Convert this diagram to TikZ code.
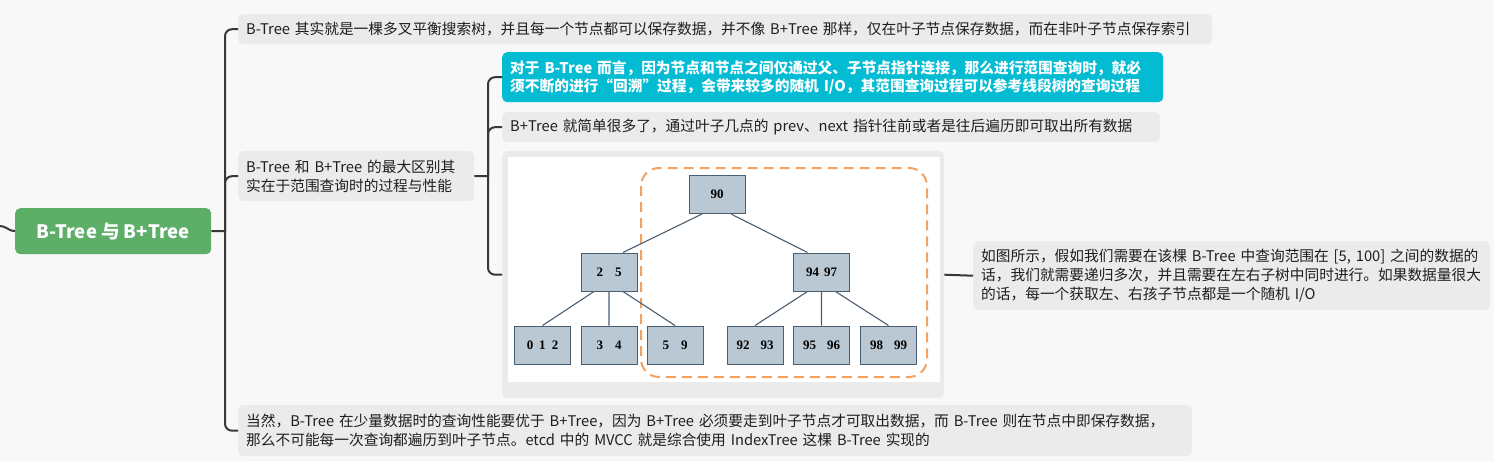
\documentclass[tikz,border=0pt]{standalone}
\usepackage{fontspec}
\setmainfont{Noto Sans CJK SC}
\newfontfamily\treefont{Liberation Serif}

\definecolor{bgcol}{HTML}{F8F8F8}
\definecolor{boxcol}{HTML}{EBEBEB}
\definecolor{linecol}{HTML}{383838}
\definecolor{rootcol}{HTML}{5DAF67}
\definecolor{cyancol}{HTML}{03BCD4}
\definecolor{tfill}{HTML}{B9C8D3}
\definecolor{tline}{HTML}{4A5E72}
\definecolor{dashcol}{HTML}{F4A261}
\definecolor{txtcol}{HTML}{1E1E1E}

\begin{document}
\begin{tikzpicture}[x=1pt,y=-1pt,
  topic/.style={fill=boxcol,rounded corners=5pt,anchor=north west,align=left,
    inner xsep=8pt,inner ysep=0pt,text=txtcol,
    font=\fontsize{14.7}{19}\selectfont},
  hot/.style={topic,fill=cyancol,text=white,font=\fontsize{14.7}{18}\selectfont\bfseries},
  tnode/.style={draw=tline,fill=tfill,line width=1pt,minimum width=56pt,minimum height=38pt,
    inner sep=0pt,font=\treefont\bfseries\fontsize{13}{14}\selectfont},
  link/.style={draw=linecol,line width=2pt,rounded corners=7pt},
  edge/.style={draw=tline,line width=1.1pt}]

\fill[bgcol] (0,0) rectangle (1494,461);
\useasboundingbox (0,0) rectangle (1494,461);

% root
\node[fill=rootcol,rounded corners=5pt,anchor=north west,minimum width=196pt,minimum height=46pt,
  text=white,font=\fontsize{18.5}{20}\selectfont\bfseries] (root) at (15,208) {B-Tree 与 B+Tree};
\coordinate (parent) at (0,226);
\coordinate (trunk) at (225,231);

% first level
\node[topic,text width=958pt,minimum height=30pt] (intro) at (238,14)
  {\mbox{B-Tree 其实就是一棵多叉平衡搜索树，并且每一个节点都可以保存数据，并不像 B+Tree 那样，仅在叶子节点保存数据，而在非叶子节点保存索引}};
\node[topic,text width=220pt,minimum height=50pt] (diff) at (238,151)
  {\mbox{B-Tree 和 B+Tree 的最大区别其}\\\mbox{实在于范围查询时的过程与性能}};
\node[topic,text width=938pt,minimum height=51pt] (usage) at (238,405)
  {\mbox{当然，B-Tree 在少量数据时的查询性能要优于 B+Tree，因为 B+Tree 必须要走到叶子节点才可取出数据，而 B-Tree 则在节点中即保存数据，}\\
   \mbox{那么不可能每一次查询都遍历到叶子节点。etcd 中的 MVCC 就是综合使用 IndexTree 这棵 B-Tree 实现的}};

% second level
\coordinate (fork) at (488,176);
\node[hot,text width=645pt,minimum height=50pt] (btree) at (502,52)
  {\mbox{对于 B-Tree 而言，因为节点和节点之间仅通过父、子节点指针连接，那么进行范围查询时，就必}\\
   \mbox{须不断的进行“回溯”过程，会带来较多的随机 I/O，其范围查询过程可以参考线段树的查询过程}};
\node[topic,text width=642pt,minimum height=30pt] (bplus) at (502,112)
  {\mbox{B+Tree 就简单很多了，通过叶子几点的 prev、next 指针往前或者是往后遍历即可取出所有数据}};
\node[topic,inner sep=0pt,minimum width=442pt,minimum height=247pt] (pic) at (502,151) {};
\node[topic,text width=501pt,minimum height=69pt] (note) at (973,241)
  {\mbox{如图所示，假如我们需要在该棵 B-Tree 中查询范围在 [5, 100] 之间的数据的}\\
   \mbox{话，我们就需要递归多次，并且需要在左右子树中同时进行。如果数据量很大}\\
   \mbox{的话，每一个获取左、右孩子节点都是一个随机 I/O}};

\draw[link] (parent) to[out=0,in=180] (root.west);
\draw[link] (root.east) -- (trunk);
\draw[link] (trunk) |- (intro.west);
\draw[link] (trunk) |- (diff.west);
\draw[link] (trunk) |- (usage.west);
\draw[link] (diff.east) -- (fork);
\draw[link] (fork) |- (btree.west);
\draw[link] (fork) |- (bplus.west);
\draw[link] (fork) |- (pic.west);
\draw[link] (pic.east) -- (note.west);

% the tree picture
\fill[white] (508,157) rectangle (940,382);
\draw[dashcol,line width=2pt,dash pattern=on 10pt off 6pt,rounded corners=18pt] (641,168) rectangle (927,377);

\node[tnode] (n90) at (717,194.5) {90};
\node[tnode] (n25) at (609,272) {2\hspace{12pt}5};
\node[tnode] (n9497) at (821.5,272) {94\hspace{5pt}97};
\node[tnode] (l012) at (542.5,345) {0\hspace{6pt}1\hspace{6pt}2};
\node[tnode] (l34) at (609,345) {3\hspace{12pt}4};
\node[tnode] (l59) at (675,345) {5\hspace{12pt}9};
\node[tnode] (l9293) at (755,345) {92\hspace{11pt}93};
\node[tnode] (l9596) at (821.5,345) {95\hspace{11pt}96};
\node[tnode] (l9899) at (888.5,345) {98\hspace{11pt}99};

\path [edge]
    ([xshift=-15pt]n90.south) -- ([xshift=14pt]n25.north)
    ([xshift=14pt]n90.south) -- ([xshift=-14pt]n9497.north)
    ([xshift=-15pt]n25.south) -- (l012.north)
    (n25.south) -- (l34.north)
    ([xshift=14pt]n25.south) -- (l59.north)
    ([xshift=-14pt]n9497.south) -- (l9293.north)
    (n9497.south) -- (l9596.north)
    ([xshift=14pt]n9497.south) -- (l9899.north)
;

\end{tikzpicture}
\end{document}
